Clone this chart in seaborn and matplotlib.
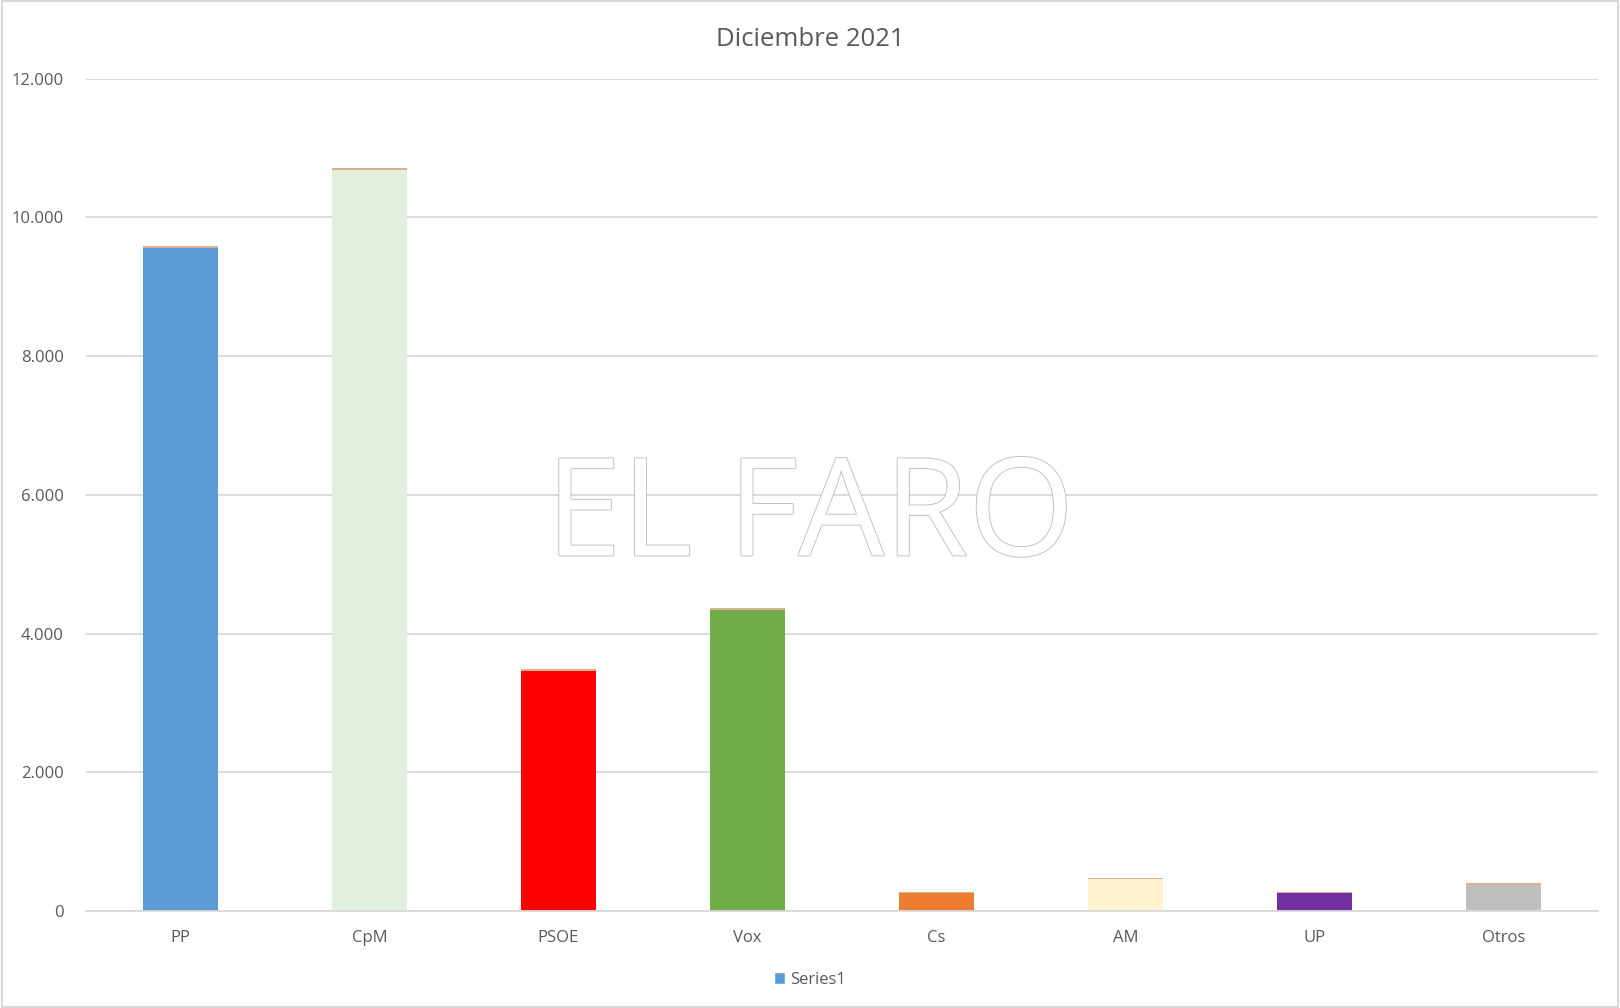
import matplotlib
matplotlib.use("Agg")
import matplotlib.pyplot as plt
import matplotlib.patheffects as pe
from matplotlib.ticker import FuncFormatter, MultipleLocator
from matplotlib.patches import Patch, Rectangle
import seaborn as sns
import pandas as pd

categories = ["PP", "CpM", "PSOE", "Vox", "Cs", "AM", "UP", "Otros"]
values = [9560, 10685, 3460, 4345, 258, 458, 258, 382]
top_values = [30, 30, 30, 30, 18, 18, 18, 22]
colors = ["#5B9BD5", "#E2EFDA", "#FF0000", "#70AD47", "#ED7D31", "#FFF2CC", "#7030A0", "#BFBFBF"]
title = "Diciembre 2021"
legend_label = "Series1"

sns.set_theme(style="white")
plt.rcParams['font.family'] = ['Open Sans', 'DejaVu Sans']
txt = "#595959"

fig = plt.figure(figsize=(16.2, 10.08), dpi=100)
ax = fig.add_axes([0.053, 0.0962, 0.9334, 0.8258])

df = pd.DataFrame({"cat": categories, "val": values})
sns.barplot(data=df, x="cat", y="val", hue="cat", palette=colors, width=0.4,
            legend=False, ax=ax, saturation=1, linewidth=0)
ax.bar(range(len(categories)), top_values, bottom=values, width=0.4,
       color="#D7A98A", alpha=0.9, linewidth=0)

ax.set_ylim(0, 12000)
ax.set_xlim(-0.5, len(categories) - 0.5)
ax.yaxis.set_major_locator(MultipleLocator(2000))
ax.yaxis.set_major_formatter(FuncFormatter(lambda v, p: f"{int(v):,}".replace(",", ".")))
ax.grid(axis="y", color="#D9D9D9", linewidth=1.3)
ax.set_axisbelow(True)
for s in ["top", "right", "left"]:
    ax.spines[s].set_visible(False)
ax.spines["bottom"].set_color("#D9D9D9")
ax.spines["bottom"].set_linewidth(1.3)
ax.tick_params(axis="both", length=0, labelsize=12, colors=txt, pad=14)
ax.tick_params(axis="y", pad=16)
ax.set_xlabel("")
ax.set_ylabel("")

fig.text(0.5, 0.961, title, ha="center", va="center", fontsize=18.5, color=txt)

fig.legend(handles=[Patch(facecolor="#5B9BD5", label=legend_label)],
           loc="center", bbox_to_anchor=(0.5, 0.028), frameon=False,
           fontsize=12, labelcolor=txt, handlelength=0.7, handleheight=0.7,
           handletextpad=0.3)

# watermark
fig.text(0.5, 0.5, "EL FARO", ha="center", va="center_baseline", fontsize=98,
         color="white", alpha=1.0, zorder=10,
         path_effects=[pe.Stroke(linewidth=1.2, foreground="#BBBBBB"), pe.Normal()])

fig.patches.append(Rectangle((0.001, 0.001), 0.998, 0.998, transform=fig.transFigure,
                             fill=False, edgecolor="#D9D9D9", linewidth=1.5))

fig.savefig("out.png", dpi=100, facecolor="white")
